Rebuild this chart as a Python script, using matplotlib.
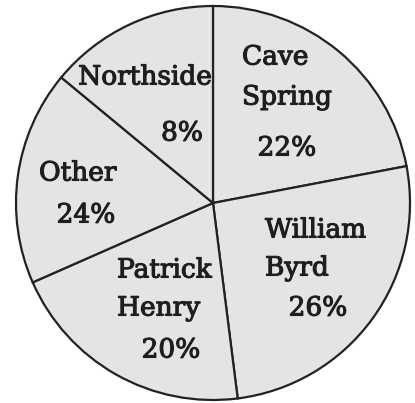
import matplotlib
matplotlib.use("Agg")
import matplotlib.pyplot as plt
import matplotlib.patheffects as pe

# Slices in drawing order (clockwise from 12 o'clock)
schools = ["Cave Spring", "William Byrd", "Patrick Henry", "Other", "Northside"]
printed_pct = [22, 26, 20, 24, 8]
# Angular shares as actually drawn in the reference picture (percent of circle)
drawn_share = [22.0, 26.0, 20.4, 17.6, 14.0]

W, H = 415, 403
fig = plt.figure(figsize=(W / 100, H / 100), dpi=100)
ax = fig.add_axes([0, 0, 1, 1])
ax.pie(drawn_share, startangle=90, counterclock=False,
       center=(213, 200), radius=197,
       colors=["#e3e4e6"] * len(schools),
       wedgeprops=dict(edgecolor="#222222", linewidth=1.6))
ax.set_xlim(0, W)
ax.set_ylim(0, H)
ax.set_aspect("equal")
ax.axis("off")

font = dict(family="DejaVu Serif", fontsize=19, color="#1e1e1e", va="center",
            path_effects=[pe.withStroke(linewidth=0.8, foreground="#1e1e1e")])

def line(txt, x, y, ha="center"):
    ax.text(x, H - y, txt, ha=ha, **font)

# Cave Spring
line("Cave", 242, 57, ha="left")
line("Spring", 242, 97, ha="left")
line(f"{printed_pct[0]}%", 287, 148)
# William Byrd
line("William", 265, 230, ha="left")
line("Byrd", 265, 268, ha="left")
line(f"{printed_pct[1]}%", 318, 308)
# Patrick Henry
line("Patrick", 117, 270, ha="left")
line("Henry", 117, 308, ha="left")
line(f"{printed_pct[2]}%", 171, 350)
# Other
line("Other", 39, 173, ha="left")
line(f"{printed_pct[3]}%", 86, 215)
# Northside
line("Northside", 145, 77)
line(f"{printed_pct[4]}%", 182, 133)

fig.savefig("out.png", dpi=100)
